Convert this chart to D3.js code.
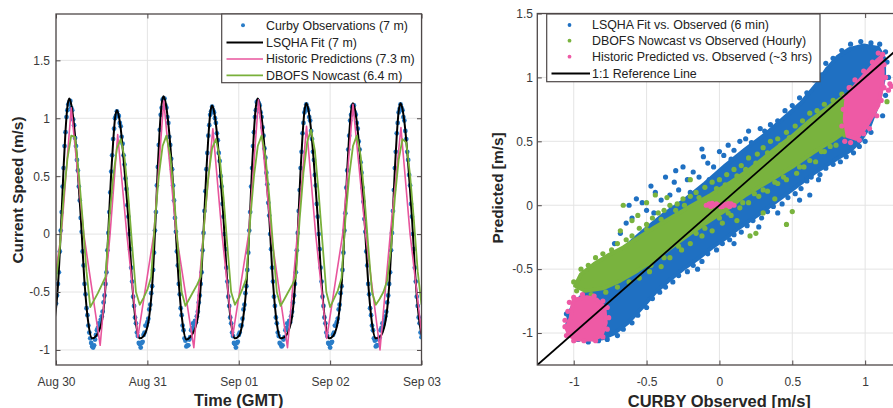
<!DOCTYPE html>
<html><head><meta charset="utf-8">
<script src="https://cdn.jsdelivr.net/npm/d3@7"></script>
<style>
html,body{margin:0;padding:0;background:#fff;}
svg{display:block;font-family:"Liberation Sans",Arial,Helvetica,sans-serif;}
</style></head><body>
<svg id="chart" width="893" height="408"></svg>
<script>
// ================= DATA =================
// Left panel: time axis (hours after 2019-08-30 00:00 GMT)
const timeTickHours = [0, 24, 48, 72, 96];
const timeTickLabels = ["Aug 30", "Aug 31", "Sep 01", "Sep 02", "Sep 03"];
const speedTicks = [-1, -0.5, 0, 0.5, 1, 1.5];
const speedTickLabels = ["-1", "-0.5", "0", "0.5", "1", "1.5"];

// Curby observations, every 15 min from Aug 30 00:00 (m/s)
const obsStepHours = 0.25;
const curbyObs = [
-0.60,-0.53,-0.43,-0.33,-0.15,0.03,0.19,0.41,0.57,0.76,0.88,1.01,1.07,1.12,
1.14,
1.15,1.09,1.07,0.99,0.94,0.83,0.76,0.64,0.55,0.41,0.29,0.14,0.02,-0.15,-0.27,-0.43,-0.52,-0.64,-0.70,-0.79,-0.85,-0.90,-0.94,-0.97,-0.98,-0.96,-0.91,-0.87,-0.83,-0.81,-0.77,-0.78,-0.74,
-0.71,-0.67,-0.59,-0.53,-0.43,-0.33,-0.14,0.01,0.19,0.36,0.54,0.68,0.82,0.91,1.00,1.02,
1.06,
1.03,1.02,0.96,0.93,0.84,0.78,0.68,0.60,0.48,0.39,0.25,0.15,0.00,-0.13,-0.29,-0.41,-0.54,-0.62,-0.72,-0.77,-0.85,-0.88,-0.94,-0.95,-0.98,-0.94,-0.93,-0.87,-0.85,-0.79,-0.79,-0.76,
-0.73,-0.65,-0.61,-0.51,-0.45,-0.31,-0.16,0.03,0.19,0.42,0.58,0.77,0.90,1.03,1.09,1.16,
1.17,
1.17,1.11,1.09,1.01,0.96,0.84,0.77,0.65,0.56,0.42,0.29,0.14,0.02,-0.15,-0.27,-0.43,-0.52,-0.64,-0.70,-0.79,-0.83,-0.90,-0.92,-0.97,-0.96,-0.96,-0.91,-0.89,-0.83,-0.81,-0.77,-0.78,-0.75,-0.76,
-0.71,-0.67,-0.59,-0.53,-0.43,-0.33,-0.14,0.01,0.20,0.37,0.56,0.70,0.85,0.94,1.03,1.06,
1.10,
1.07,1.05,1.00,0.96,0.87,0.81,0.70,0.63,0.50,0.41,0.26,0.15,0.00,-0.13,-0.29,-0.41,-0.54,-0.62,-0.72,-0.77,-0.85,-0.88,-0.94,-0.95,-0.98,-0.94,-0.93,-0.87,-0.85,-0.79,-0.79,
-0.73,-0.65,-0.61,-0.51,-0.45,-0.31,-0.16,0.03,0.19,0.41,0.57,0.76,0.88,1.01,1.07,1.14,
1.15,
1.13,1.11,1.05,1.01,0.92,0.85,0.74,0.66,0.53,0.43,0.27,0.16,0.00,-0.13,-0.29,-0.41,-0.54,-0.62,-0.72,-0.77,-0.85,-0.88,-0.94,-0.95,-0.97,-0.96,-0.91,-0.89,-0.83,-0.81,-0.77,-0.78,-0.75,-0.76,
-0.71,-0.67,-0.59,-0.53,-0.43,-0.33,-0.14,0.01,0.20,0.38,0.57,0.71,0.87,0.96,1.05,1.08,
1.12,
1.09,1.07,1.01,0.98,0.89,0.82,0.71,0.64,0.51,0.42,0.26,0.15,0.00,-0.13,-0.29,-0.41,-0.54,-0.62,-0.72,-0.77,-0.85,-0.88,-0.94,-0.95,-0.98,-0.94,-0.93,-0.87,-0.85,-0.79,-0.79,-0.76,
-0.73,-0.65,-0.61,-0.51,-0.45,-0.31,-0.16,0.03,0.18,0.40,0.55,0.73,0.85,0.98,1.03,1.10,
1.11,
1.11,1.05,1.03,0.96,0.91,0.80,0.73,0.62,0.53,0.40,0.28,0.13,0.02,-0.15,-0.27,-0.43,-0.52,-0.64,-0.70,-0.79,-0.83,-0.90,-0.92,-0.97,-0.96,-0.96,-0.91,-0.89,-0.83,-0.81,-0.77,-0.78,-0.74,
-0.71,-0.67,-0.59,-0.53,-0.43,-0.33,-0.14,0.01,0.20,0.38,0.57,0.71,0.87,0.96,1.05,1.08,
1.12,
1.09,1.07,1.01,0.98,0.89,0.82,0.71,0.64,0.51,0.42,0.26,0.15,0.00,-0.13,-0.29,-0.41,-0.54,-0.62,-0.72,-0.77,-0.85,-0.89
];

// LSQHA fit: [hour, m/s]
const lsqhaFit = [
[-2,-0.88],[-0.5,-0.76],[0.5,-0.45],[1.5,0.20],[2.0,0.58],[2.5,0.89],[3.0,1.10],[3.5,1.17],
[4.0,1.12],[4.5,1.01],[5.5,0.65],[6.5,0.15],[7.5,-0.42],[8.5,-0.77],[9.5,-0.90],[10.5,-0.88],[12.0,-0.76],[13.0,-0.45],[14.0,0.20],[14.5,0.53],[15.0,0.79],[15.5,1.00],[16.0,1.07],
[16.5,1.02],[17.0,0.91],[18.0,0.55],[19.0,0.13],[20.0,-0.42],[21.0,-0.77],[22.0,-0.90],[23.0,-0.88],[24.25,-0.76],[25.25,-0.45],[26.25,0.20],[26.75,0.59],[27.25,0.91],[27.75,1.12],[28.25,1.19],
[28.75,1.14],[29.25,1.03],[30.25,0.67],[31.25,0.15],[32.25,-0.42],[33.25,-0.77],[34.25,-0.91],[35.25,-0.89],[37.0,-0.76],[38.0,-0.45],[39.0,0.20],[39.5,0.55],[40.0,0.83],[40.5,1.04],[41.0,1.11],
[41.5,1.06],[42.0,0.95],[43.0,0.59],[44.0,0.13],[45.0,-0.42],[46.0,-0.77],[47.0,-0.90],[48.0,-0.88],[49.0,-0.76],[50.0,-0.45],[51.0,0.20],[51.5,0.58],[52.0,0.89],[52.5,1.10],[53.0,1.17],
[53.5,1.12],[54.0,1.01],[55.0,0.65],[56.0,0.15],[57.0,-0.42],[58.0,-0.77],[59.0,-0.90],[60.0,-0.89],[61.75,-0.76],[62.75,-0.45],[63.75,0.20],[64.25,0.56],[64.75,0.85],[65.25,1.06],[65.75,1.13],
[66.25,1.08],[66.75,0.97],[67.75,0.61],[68.75,0.14],[69.75,-0.42],[70.75,-0.77],[71.75,-0.90],[72.75,-0.88],[74.0,-0.76],[75.0,-0.45],[76.0,0.20],[76.5,0.56],[77.0,0.85],[77.5,1.06],[78.0,1.13],
[78.5,1.08],[79.0,0.97],[80.0,0.61],[81.0,0.14],[82.0,-0.42],[83.0,-0.77],[84.0,-0.90],[85.0,-0.89],[86.5,-0.76],[87.5,-0.45],[88.5,0.20],[89.0,0.56],[89.5,0.85],[90.0,1.06],[90.5,1.13],
[91.0,1.08],[91.5,0.97],[92.5,0.61],[93.5,0.14],[94.5,-0.42],[95.5,-0.77],[96.5,-0.90],[97.5,-0.88]
];

// Historic predictions (slack / max flood / slack / max ebb events): [hour, m/s]
const historicPred = [
[-2.6,-0.88],[1.4,0],[4.0,1.09],[7.3,0],[11.6,-0.96],[14.2,0],[16.2,0.86],[18.6,0],[21.5,-0.89],[25.7,0],
[28.3,1.15],[31.6,0],[36.2,-0.98],[38.7,0],[41.2,0.91],[43.6,0],[46.4,-0.88],[50.6,0],[53.2,1.16],[56.5,0],
[60.8,-0.98],[63.4,0],[65.8,0.93],[68.2,0],[71.1,-0.90],[75.3,0],[78.0,1.12],[81.3,0],[85.1,-1.00],[87.8,0],
[90.6,0.92],[93.0,0],[96.1,-0.88]
];

// DBOFS nowcast, hourly from Aug 30 00:00 (m/s)
const dbofsNowcast = [
-0.40,-0.12,0.32,0.65,0.85,0.84,0.52,0.12,-0.32,-0.63,-0.57,-0.51,-0.44,-0.37,
0.12,0.49,0.74,0.82,0.66,0.32,-0.10,-0.50,-0.61,-0.55,-0.48,-0.37,
0.12,0.50,0.76,0.85,0.68,0.33,-0.10,-0.50,-0.62,-0.56,-0.50,-0.44,-0.37,
0.12,0.49,0.74,0.82,0.66,0.32,-0.10,-0.50,-0.61,-0.55,-0.47,-0.38,
0.12,0.50,0.76,0.85,0.68,0.33,-0.10,-0.50,-0.62,-0.56,-0.50,-0.44,-0.37,
0.13,0.53,0.80,0.90,0.72,0.35,-0.08,-0.50,-0.63,-0.56,-0.49,-0.38,
0.12,0.50,0.76,0.85,0.68,0.33,-0.10,-0.50,-0.61,-0.56,-0.50,-0.40,
-0.12,0.31,0.64,0.82,0.79,0.51,0.12,-0.32,-0.61
];

// Right panel: predicted vs observed (m/s)
const scatterTicksX = [-1, -0.5, 0, 0.5, 1];
const scatterTickLabelsX = ["-1", "-0.5", "0", "0.5", "1"];
const scatterTicksY = [-1, -0.5, 0, 0.5, 1, 1.5];
const scatterTickLabelsY = ["-1", "-0.5", "0", "0.5", "1", "1.5"];

// dense cores of each cloud (outline of the solidly covered region) [obs, pred]
const lsqhaDense = [
[-1.04,-0.86],[-1.01,-0.98],[-0.95,-1.03],[-0.86,-1.05],[-0.80,-1.04],[-0.72,-1.0],[-0.63,-0.92],[-0.53,-0.80],
[-0.44,-0.68],[-0.35,-0.59],[-0.25,-0.50],[-0.15,-0.42],[-0.05,-0.33],[0.04,-0.26],[0.13,-0.18],[0.26,-0.08],
[0.39,0.03],[0.52,0.14],[0.66,0.26],[0.80,0.36],[0.90,0.43],[0.97,0.51],[1.03,0.62],[1.09,0.80],[1.13,1.0],
[1.13,1.15],[1.09,1.23],[0.99,1.25],[0.89,1.22],[0.81,1.16],[0.74,1.07],[0.67,0.95],[0.56,0.80],[0.45,0.69],
[0.32,0.56],[0.18,0.44],[0.04,0.31],[-0.10,0.17],[-0.24,0.04],[-0.38,-0.07],[-0.52,-0.20],[-0.66,-0.34],
[-0.80,-0.53],[-0.92,-0.68],[-1.0,-0.78]
];
const dbofsDense = [
[-0.99,-0.63],[-0.95,-0.54],[-0.86,-0.46],[-0.76,-0.39],[-0.66,-0.33],[-0.55,-0.25],[-0.44,-0.17],[-0.32,-0.09],
[-0.2,-0.01],[-0.06,0.08],[0.08,0.18],[0.22,0.29],[0.36,0.42],[0.5,0.54],[0.62,0.66],[0.74,0.76],[0.84,0.84],
[0.92,0.88],[0.98,0.84],[1.0,0.74],[0.96,0.66],[0.88,0.59],[0.78,0.51],[0.64,0.41],[0.5,0.30],[0.34,0.19],
[0.18,0.08],[0.04,-0.04],[-0.08,-0.13],[-0.2,-0.22],[-0.32,-0.32],[-0.44,-0.42],[-0.56,-0.51],[-0.68,-0.59],
[-0.8,-0.65],[-0.92,-0.67]
];
const historicDenseEbb = [
[-1.0,-0.74],[-0.91,-0.72],[-0.84,-0.74],[-0.79,-0.80],[-0.78,-0.92],[-0.81,-1.02],[-0.87,-1.05],[-0.98,-1.05],
[-1.03,-1.02],[-1.05,-0.96],[-1.02,-0.88],[-1.01,-0.79]
];
const historicDenseFlood = [
[0.91,0.90],[0.95,0.96],[1.02,1.05],[1.08,1.13],[1.11,1.16],[1.12,1.05],[1.12,0.95],[1.09,0.78],[1.01,0.62],
[0.94,0.52],[0.88,0.54],[0.86,0.67],[0.87,0.82]
];

// individual points around the dense cores [obs, pred]
const lsqhaPoints = [
[-1.05,-0.85],[-1.04,-0.93],[-1.02,-1.0],[-0.97,-1.05],[-0.9,-1.07],[-0.83,-1.06],[-0.77,-1.05],[-0.7,-1.02],
[-0.66,-0.97],[-0.6,-0.92],[-0.56,-0.86],[-0.5,-0.8],[-0.46,-0.73],[-0.41,-0.68],[-0.37,-0.64],[-0.32,-0.6],
[-0.28,-0.55],[-0.22,-0.52],[-0.18,-0.47],[-0.12,-0.44],[-0.08,-0.38],[-0.02,-0.35],[0.02,-0.3],[0.07,-0.27],
[0.1,-0.23],[0.15,-0.21],[0.19,-0.16],[0.23,-0.12],[0.29,-0.1],[0.33,-0.05],[0.37,-0.01],[0.43,0.01],[0.47,0.06],
[0.52,0.09],[0.56,0.13],[0.6,0.19],[0.63,0.22],[0.69,0.24],[0.73,0.29],[0.78,0.32],[0.83,0.34],[0.87,0.38],
[0.92,0.41],[0.96,0.46],[1.0,0.5],[1.04,0.57],
[0.55,0.04],[0.62,0.08],[0.4,-0.06],[0.27,-0.17],[0.1,-0.3],[-0.15,-0.5],[0.68,0.2],
[1.12,0.7],[1.14,0.86],[1.16,1.0],[1.15,1.12],[1.14,1.2],[1.1,1.26],[1.04,1.27],[0.97,1.28],[0.9,1.26],[0.84,1.21],
[0.78,1.15],[0.73,1.11],[0.7,1.02],[0.65,0.98],[0.6,0.88],[0.55,0.84],[0.5,0.78],[0.45,0.74],[0.4,0.66],[0.35,0.63],
[0.31,0.58],[0.28,0.6],[0.22,0.49],[0.18,0.52],[0.14,0.5],[0.1,0.43],[0.06,0.47],[0.03,0.39],[0.0,0.42],[-0.04,0.3],
[-0.08,0.33],[-0.11,0.38],[-0.14,0.22],[-0.18,0.26],[-0.22,0.2],[-0.25,0.3],[-0.28,0.12],[-0.31,0.18],[-0.34,0.08],
[-0.37,0.22],[-0.4,0.04],[-0.44,0.1],[-0.47,0.15],[-0.5,-0.04],[-0.53,0.02],[-0.57,0.05],[-0.6,-0.1],[-0.64,-0.14],
[-0.68,-0.22],[-0.72,-0.3],[-0.62,0.0],[-0.3,0.27],[-0.12,0.44],[0.2,0.58],
[-0.2,0.1],[-0.16,0.06],[-0.07,0.2],[-0.33,-0.02],[-0.45,-0.06],[0.08,0.36]
];
const dbofsPoints = [
[-1.0,-0.6],[-0.98,-0.67],[-0.95,-0.5],[-0.9,-0.47],[-0.85,-0.41],[-0.8,-0.38],[-0.74,-0.35],[-0.7,-0.3],
[-0.64,-0.27],[-0.6,-0.24],[-0.55,-0.18],[-0.5,-0.15],[-0.46,-0.1],[-0.42,-0.06],[-0.38,-0.04],[-0.34,0.0],
[-0.29,0.01],[-0.25,0.05],[-0.2,0.07],[-0.16,0.1],[-0.1,0.14],[-0.05,0.18],[0.0,0.2],[0.05,0.24],[0.1,0.28],
[0.15,0.31],[0.2,0.37],[0.26,0.4],[0.3,0.45],[0.35,0.5],[0.4,0.52],[0.46,0.57],[0.52,0.62],[0.57,0.66],[0.62,0.72],
[0.67,0.74],[0.72,0.79],[0.78,0.82],[0.84,0.87],[0.9,0.92],[0.94,0.9],
[-0.88,-0.7],[-0.78,-0.68],[-0.7,-0.64],[-0.62,-0.6],[-0.55,-0.57],[-0.48,-0.52],[-0.4,-0.48],[-0.34,-0.41],
[-0.26,-0.35],[-0.2,-0.3],[-0.12,-0.24],[-0.05,-0.2],[0.02,-0.14],[0.08,-0.08],[0.14,-0.02],[0.2,0.02],[0.27,0.07],
[0.33,0.11],[0.4,0.17],[0.46,0.2],[0.53,0.25],[0.58,0.3],[0.66,0.34],[0.72,0.42],[0.8,0.47],[0.86,0.55],[0.93,0.6],
[0.99,0.68],[1.03,0.77],
[-0.68,-0.2],[-0.6,-0.12],[-0.5,0.02],[-0.66,0.0],[0.21,-0.24],[0.25,-0.22],[0.46,-0.15],[0.5,-0.05],[0.3,-0.06],
[1.15,0.81],[1.1,0.86],[-0.44,0.08],[-0.2,0.2],[-0.56,-0.08],[-0.36,0.06],[0.12,-0.12],[0.38,0.05],
[-0.5,-0.19],[-0.4,-0.11],[-0.3,-0.04],[-0.24,0.0],[-0.14,0.06],[-0.02,0.13],[0.04,0.16],[0.12,0.23],[0.18,0.28],
[0.25,0.33],[0.33,0.41],[0.42,0.47],[0.48,0.53],[0.56,0.59],[0.64,0.67],[0.7,0.72],
[-0.47,-0.47],[-0.38,-0.41],[-0.28,-0.32],[-0.16,-0.22],[-0.1,-0.18],[0.0,-0.1],[0.06,-0.06],[0.16,0.02],[0.24,0.09],
[0.3,0.12],[0.38,0.18],[0.44,0.22],[0.55,0.3],[0.62,0.35],[0.7,0.42],[0.76,0.46]
];
const historicPoints = [
[-1.06,-0.95],[-1.05,-1.02],[-1.0,-1.06],[-0.93,-1.06],[-0.85,-1.06],[-0.8,-1.03],[-0.77,-0.97],[-0.76,-0.88],
[-0.77,-0.8],[-0.8,-0.75],[-0.86,-0.71],[-0.94,-0.7],[-1.0,-0.72],[-1.03,-0.76],[-1.04,-0.83],[-1.06,-0.9],
[-0.09,0.0],[-0.07,0.01],[-0.06,-0.01],[-0.05,0.015],[-0.04,0.0],[-0.02,0.01],[0.0,0.0],[0.01,-0.012],[0.02,-0.01],
[0.03,0.01],[0.05,0.0],[0.06,0.012],[0.07,-0.01],[0.08,0.01],[0.1,0.0],
[0.86,0.5],[0.9,0.49],[0.96,0.51],[1.03,0.6],[1.08,0.7],[1.11,0.82],[1.13,0.92],[1.14,1.0],[1.13,1.1],[1.12,1.18],
[1.09,1.19],[1.05,1.12],[0.99,1.05],[0.93,0.98],[0.89,0.92],[0.86,0.85],[0.85,0.75],[0.84,0.62],[1.17,0.95],
[1.16,0.9],[1.18,0.93],[0.99,0.56]
];
const referenceLine = [[-1.25,-1.25],[1.5,1.5]];

// ================= STYLE =================
const C = {
  obs: "#2a7dc8", fit: "#000000", hist: "#e8559c", dbofs: "#79b03a",
  sBlue: "#1f70c2", sGreen: "#79b33e", sPink: "#ee5aa5",
  axis: "#4e4848", grid: "#e4e4e4", text: "#3a3a3a"
};
const TICK_FONT = 12, LEGEND_FONT = 12.4;

const svg = d3.select("#chart");
const startMs = Date.UTC(2019, 7, 30);
const toDate = h => new Date(startMs + h * 3600e3);

const xT = d3.scaleUtc().domain([toDate(0), toDate(96)]).range([56, 421.5]);
const yL = d3.scaleLinear().domain([-1.13, 1.9]).range([365, 14]);
const xR = d3.scaleLinear().domain([-1.25, 1.5]).range([537.3, 938]);
const yR = d3.scaleLinear().domain([-1.25, 1.5]).range([365, 13.5]);

function frame(g, x, y, xVals, yVals, id) {
  const [x0, x1] = x.range(), [y1, y0] = y.range();
  g.append("g").selectAll("line").data(xVals).join("line")
    .attr("x1", d => x(d)).attr("x2", d => x(d)).attr("y1", y0).attr("y2", y1)
    .attr("stroke", C.grid).attr("stroke-width", 1);
  g.append("g").selectAll("line").data(yVals).join("line")
    .attr("y1", d => y(d)).attr("y2", d => y(d)).attr("x1", x0).attr("x2", x1)
    .attr("stroke", C.grid).attr("stroke-width", 1);
  svg.append("clipPath").attr("id", id).append("rect")
    .attr("x", x0).attr("y", y0).attr("width", x1 - x0).attr("height", y1 - y0);
}
function axes(g, x, y, xVals, xLabs, yVals, yLabs, labelEnd) {
  const [x0, x1] = x.range(), [y1, y0] = y.range();
  const ax = g.append("g");
  ax.append("g").attr("transform", `translate(0,${y1})`)
    .call(d3.axisBottom(x).tickValues(xVals).tickFormat((d, i) => xLabs[i]).tickSizeInner(-4.5).tickSizeOuter(0).tickPadding(12));
  ax.append("g").attr("transform", `translate(0,${y0})`)
    .call(d3.axisTop(x).tickValues(xVals).tickFormat("").tickSizeInner(-4.5).tickSizeOuter(0));
  ax.append("g").attr("transform", `translate(${x0},0)`)
    .call(d3.axisLeft(y).tickValues(yVals).tickFormat((d, i) => yLabs[i]).tickSizeInner(-4.5).tickSizeOuter(0).tickPadding(x0 - labelEnd));
  ax.append("g").attr("transform", `translate(${x1},0)`)
    .call(d3.axisRight(y).tickValues(yVals).tickFormat("").tickSizeInner(-4.5).tickSizeOuter(0));
  ax.selectAll(".domain").remove();
  ax.selectAll(".tick line").attr("stroke", C.axis).attr("stroke-width", 1);
  ax.selectAll(".tick text").attr("fill", C.text).attr("font-size", TICK_FONT)
    .attr("font-family", '"Liberation Sans", Arial, sans-serif');
  ax.append("rect").attr("x", x0).attr("y", y0).attr("width", x1 - x0).attr("height", y1 - y0)
    .attr("fill", "none").attr("stroke", C.axis).attr("stroke-width", 1.3);
}
function legend(g, box, rows, items, markX, lineX, textX) {
  g.append("rect").attr("x", box[0]).attr("y", box[1]).attr("width", box[2]).attr("height", box[3])
    .attr("fill", "#fff").attr("stroke", C.axis).attr("stroke-width", 1.2);
  items.forEach((e, i) => {
    const yy = rows[i];
    if (e.kind === "dot") g.append("circle").attr("cx", markX).attr("cy", yy).attr("r", e.r || 2).attr("fill", e.color);
    else g.append("line").attr("x1", lineX[0]).attr("x2", lineX[1]).attr("y1", yy).attr("y2", yy)
      .attr("stroke", e.color).attr("stroke-width", e.w || 2);
    g.append("text").attr("x", textX).attr("y", yy).attr("dy", "0.35em").attr("font-size", LEGEND_FONT)
      .attr("fill", "#222").text(e.label);
  });
}

// ================= LEFT PANEL =================
const gL = svg.append("g");
const xTickDates = timeTickHours.map(toDate);
frame(gL, xT, yL, xTickDates, speedTicks, "clipL");
const plotL = gL.append("g").attr("clip-path", "url(#clipL)");

plotL.append("g").selectAll("circle").data(curbyObs).join("circle")
  .attr("cx", (d, i) => xT(toDate(i * obsStepHours))).attr("cy", d => yL(d))
  .attr("r", 2.4).attr("fill", C.obs);
plotL.append("path").datum(lsqhaFit)
  .attr("d", d3.line().x(d => xT(toDate(d[0]))).y(d => yL(d[1])).curve(d3.curveMonotoneX))
  .attr("fill", "none").attr("stroke", C.fit).attr("stroke-width", 2);
plotL.append("path").datum(historicPred)
  .attr("d", d3.line().x(d => xT(toDate(d[0]))).y(d => yL(d[1])))
  .attr("fill", "none").attr("stroke", C.hist).attr("stroke-width", 1.6).attr("stroke-linejoin", "round");
plotL.append("path").datum(dbofsNowcast)
  .attr("d", d3.line().x((d, i) => xT(toDate(i))).y(d => yL(d)))
  .attr("fill", "none").attr("stroke", C.dbofs).attr("stroke-width", 1.8).attr("stroke-linejoin", "round");
axes(gL, xT, yL, xTickDates, timeTickLabels, speedTicks, speedTickLabels, 50);

legend(gL.append("g"), [221.7, 14, 199.8, 68.7], [25.3, 42.4, 59, 75.3], [
  {label: "Curby Observations (7 m)", kind: "dot", color: C.obs},
  {label: "LSQHA Fit (7 m)", kind: "line", color: C.fit, w: 2},
  {label: "Historic Predictions (7.3 m)", kind: "line", color: C.hist, w: 1.6},
  {label: "DBOFS Nowcast (6.4 m)", kind: "line", color: C.dbofs, w: 1.8}
], 243, [226.5, 263], 266);

gL.append("text").attr("x", 238.7).attr("y", 406).attr("text-anchor", "middle")
  .attr("font-size", 16.3).attr("font-weight", "bold").attr("fill", "#262626").text("Time (GMT)");
gL.append("text").attr("transform", "translate(22.5,190) rotate(-90)").attr("text-anchor", "middle")
  .attr("font-size", 15.4).attr("font-weight", "bold").attr("fill", "#262626").text("Current Speed (m/s)");

// ================= RIGHT PANEL =================
const gR = svg.append("g");
frame(gR, xR, yR, scatterTicksX, scatterTicksY, "clipR");
const plotR = gR.append("g").attr("clip-path", "url(#clipR)");
const areaPath = d3.line().x(d => xR(d[0])).y(d => yR(d[1])).curve(d3.curveLinearClosed);
function cloud(dense, pts, color) {
  dense.forEach(poly => plotR.append("path").datum(poly).attr("d", areaPath)
    .attr("fill", color).attr("stroke", color).attr("stroke-width", 4).attr("stroke-linejoin", "round"));
  plotR.append("g").selectAll("circle").data(pts).join("circle")
    .attr("cx", d => xR(d[0])).attr("cy", d => yR(d[1])).attr("r", 2.6).attr("fill", color);
}
cloud([lsqhaDense], lsqhaPoints, C.sBlue);
cloud([dbofsDense], dbofsPoints, C.sGreen);
cloud([historicDenseEbb, historicDenseFlood], historicPoints, C.sPink);
plotR.append("path").datum(referenceLine)
  .attr("d", d3.line().x(d => xR(d[0])).y(d => yR(d[1])))
  .attr("stroke", "#000").attr("stroke-width", 1.8).attr("fill", "none");
axes(gR, xR, yR, scatterTicksX, scatterTickLabelsX, scatterTicksY, scatterTickLabelsY, 533);

legend(gR.append("g"), [546.7, 14, 273.3, 67.7], [25, 40.7, 56.7, 73.5], [
  {label: "LSQHA Fit vs. Observed (6 min)", kind: "dot", color: C.sBlue, r: 1.9},
  {label: "DBOFS Nowcast vs Observed (Hourly)", kind: "dot", color: C.sGreen, r: 1.9},
  {label: "Historic Predicted vs. Observed (~3 hrs)", kind: "dot", color: C.sPink, r: 1.9},
  {label: "1:1 Reference Line", kind: "line", color: "#000", w: 2}
], 569.5, [551.5, 590], 592);

gR.append("text").attr("x", 719.3).attr("y", 406.5).attr("text-anchor", "middle")
  .attr("font-size", 16.5).attr("font-weight", "bold").attr("fill", "#262626").text("CURBY Observed [m/s]");
gR.append("text").attr("transform", "translate(502.5,188) rotate(-90)").attr("text-anchor", "middle")
  .attr("font-size", 15.4).attr("font-weight", "bold").attr("fill", "#262626").text("Predicted [m/s]");
</script>
</body></html>
